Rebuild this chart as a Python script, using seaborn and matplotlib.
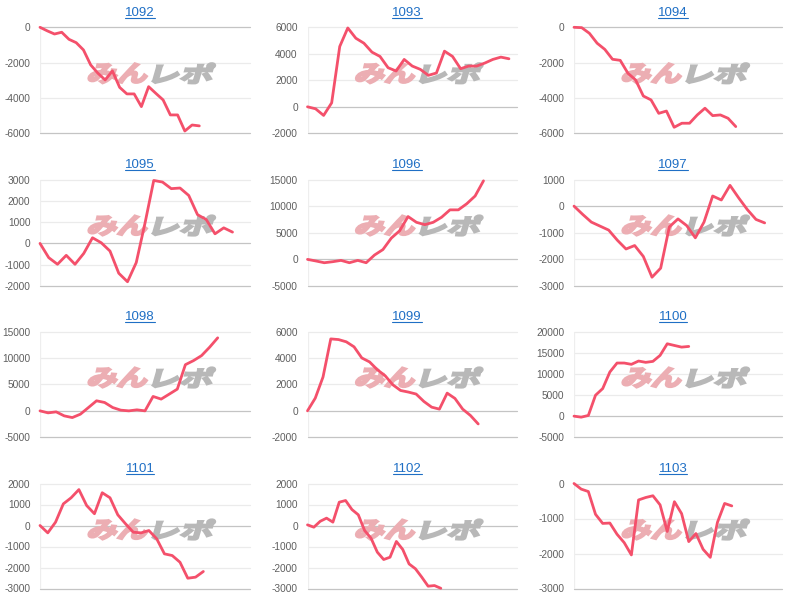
import numpy as np
import pandas as pd
import matplotlib
matplotlib.use("Agg")
import matplotlib.pyplot as plt
import seaborn as sns
from matplotlib.textpath import TextPath
from matplotlib.font_manager import FontProperties
from matplotlib.patches import PathPatch
from matplotlib.transforms import Affine2D
from matplotlib.lines import Line2D

# ---------------- data ----------------
titles = ["1092", "1093", "1094", "1095", "1096", "1097",
          "1098", "1099", "1100", "1101", "1102", "1103"]

s1092 = [0, -200, -380, -280, -680, -870, -1280, -2130, -2600, -2980, -2470, -3400,
         -3770, -3770, -4490, -3360, -3740, -4110, -4960, -4960, -5870, -5530, -5580]
s1093 = [0, -150, -650, 300, 4550, 5950, 5175, 4800, 4125, 3800, 2950, 2700, 3575,
         3075, 2825, 2375, 2550, 4200, 3800, 2875, 3075, 3075, 3300, 3575, 3750, 3625]
s1094 = [0, -20, -340, -900, -1250, -1810, -1870, -2600, -2980, -3890, -4110, -4870,
         -4740, -5660, -5430, -5430, -4960, -4580, -5000, -4960, -5150, -5620]
s1095 = [0, -670, -980, -560, -980, -470, 265, 30, -360, -1400, -1800, -900, 950,
         2955, 2880, 2570, 2600, 2250, 1350, 1120, 450, 730, 530]
s1096 = [0, -300, -630, -440, -190, -630, -190, -630, 820, 1840, 3990, 5380, 8040,
         6960, 6520, 6960, 7910, 9300, 9300, 10440, 11900, 14750]
s1097 = [0, -310, -600, -750, -900, -1280, -1610, -1480, -1890, -2670, -2330, -780,
         -480, -730, -1190, -600, 380, 230, 780, 310, -130, -500, -630]
s1098 = [0, -380, -190, -950, -1270, -630, 630, 1900, 1580, 630, 130, 0, 190, 0,
         2720, 2220, 3160, 4110, 8730, 9490, 10440, 12030, 13800]
s1099 = [0, 960, 2560, 5440, 5390, 5220, 4840, 4000, 3700, 3110, 2660, 1970, 1540,
         1420, 1270, 710, 280, 130, 1340, 940, 130, -350, -990]
s1100 = [0, -240, 160, 4940, 6510, 10430, 12550, 12550, 12240, 13020, 12710, 12940,
         14350, 17100, 16700, 16310, 16470]
s1101 = [0, -350, 160, 1030, 1320, 1710, 950, 560, 1560, 1320, 510, 80, -320, -350,
         -240, -630, -1350, -1430, -1750, -2510, -2460, -2190]
s1102 = [30, -80, 200, 350, 160, 1110, 1190, 760, 510, -240, -600, -1270, -1620,
         -1510, -760, -1140, -1830, -2060, -2460, -2890, -2860, -2990]
s1103 = [0, -160, -230, -880, -1140, -1130, -1450, -1690, -2040, -470, -400, -350,
         -610, -1370, -520, -860, -1660, -1430, -1880, -2110, -1110, -570, -640]

series = [s1092, s1093, s1094, s1095, s1096, s1097,
          s1098, s1099, s1100, s1101, s1102, s1103]

yticks_list = [
    [-6000, -4000, -2000, 0],
    [-2000, 0, 2000, 4000, 6000],
    [-6000, -4000, -2000, 0],
    [-2000, -1000, 0, 1000, 2000, 3000],
    [-5000, 0, 5000, 10000, 15000],
    [-3000, -2000, -1000, 0, 1000],
    [-5000, 0, 5000, 10000, 15000],
    [-2000, 0, 2000, 4000, 6000],
    [-5000, 0, 5000, 10000, 15000, 20000],
    [-3000, -2000, -1000, 0, 1000, 2000],
    [-3000, -2000, -1000, 0, 1000, 2000],
    [-3000, -2000, -1000, 0],
]

# number of x slots spanned by each chart's horizontal axis
x_slots = [29, 26, 27, 24, 25, 24, 26, 27, 29, 27, 33, 29]

# ---------------- style ----------------
sns.set_theme(style="white")
plt.rcParams['font.family'] = ['Liberation Sans', 'DejaVu Sans']

LINE = "#f4506b"
BLUE = "#1f6fc5"
GRID = "#ebebeb"
BASE = "#c4c4c4"
TICK = "#5f5f5f"
WM_PINK = "#ecaeb3"
WM_GRAY = "#b8b8b8"

W, H = 800, 606
fig = plt.figure(figsize=(W / 100, H / 100), dpi=100)
fig.patch.set_facecolor("white")

col_left = [40, 307.5, 574]
col_right = [250, 517, 782]
row_top = [27.3, 179.5, 331.5, 483.5]
row_bot = [133.3, 286, 437.3, 588.5]

jp_bold = FontProperties(family="Noto Sans CJK JP", weight="bold")


def add_mark(ax, text, color, x0, y0, w, h):
    """watermark piece: text path stretched into a pixel box (display coords)."""
    tp = TextPath((0, 0), text, prop=jp_bold, size=1)
    ext = tp.get_extents()
    sx = w / ext.width
    sy = h / ext.height
    tr = (Affine2D().translate(-ext.x0, -ext.y0).scale(sx * 0.92, sy)
          .skew_deg(16, 0).translate(x0, y0))
    patch = PathPatch(tp, transform=tr, facecolor=color, edgecolor=color,
                      linewidth=1.6, zorder=1.5, clip_on=False)
    ax.add_artist(patch)


titles_txt = []
for i, vals in enumerate(series):
    r, c = divmod(i, 3)
    L, R = col_left[c], col_right[c]
    T, B = row_top[r], row_bot[r]
    ax = fig.add_axes([L / W, 1 - B / H, (R - L) / W, (B - T) / H])
    ax.set_facecolor("none")

    df = pd.DataFrame({"x": np.arange(len(vals)), "y": vals})
    sns.lineplot(data=df, x="x", y="y", ax=ax, color=LINE, linewidth=2.0,
                 zorder=3, estimator=None, sort=False)
    for ln in ax.lines:
        ln.set_clip_on(False)
        ln.set_solid_joinstyle("round")
        ln.set_solid_capstyle("round")

    ticks = yticks_list[i]
    ax.set_xlim(0, x_slots[i])
    ax.set_ylim(min(ticks), max(ticks))
    ax.set_yticks(ticks)
    ax.set_yticklabels([str(t) for t in ticks])
    ax.set_xticks([])
    ax.set_xlabel("")
    ax.set_ylabel("")
    for t in ticks:
        col = BASE if (t == 0 or t == min(ticks)) else GRID
        ax.axhline(t, color=col, lw=0.9, zorder=1, clip_on=False)
    ax.axvline(0, color="#eeeeee", lw=0.9, zorder=1)
    for sp in ax.spines.values():
        sp.set_visible(False)
    ax.tick_params(axis='y', length=0, pad=7, labelsize=7.3, labelcolor=TICK)

    # watermark (display pixel coords, origin bottom-left)
    wx = L + 47
    wtop = T + 36
    wh = 20
    add_mark(ax, "みん", WM_PINK, wx, H - (wtop + wh), 63, wh)
    add_mark(ax, "レポ", WM_GRAY, wx + 65, H - (wtop + wh), 63, wh)

    # title
    cx = (L + R) / 2 - 5
    ty = T - 11.6
    txt = fig.text(cx / W, 1 - ty / H, titles[i], ha="center", va="baseline",
                   fontsize=9.5, color=BLUE)
    titles_txt.append((txt, ty))

fig.canvas.draw()
renderer = fig.canvas.get_renderer()
for txt, ty in titles_txt:
    bb = txt.get_window_extent(renderer)
    yline = 1 - (ty + 1.8) / H
    fig.add_artist(Line2D([bb.x0 / W, bb.x1 / W], [yline, yline],
                          transform=fig.transFigure, color=BLUE, lw=0.8))

fig.savefig("out.png", dpi=100, facecolor="white")
